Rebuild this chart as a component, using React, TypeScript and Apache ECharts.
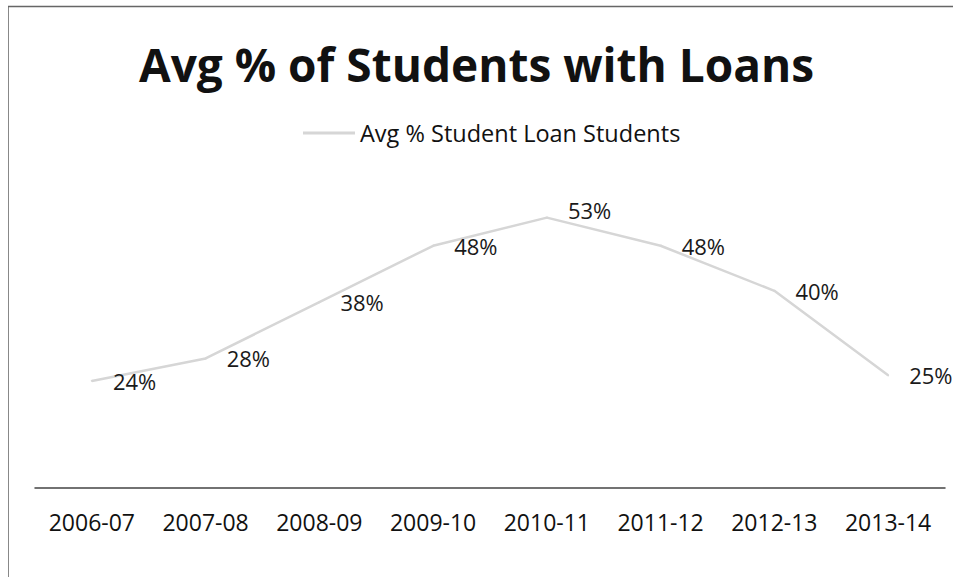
import React, { useEffect, useRef } from "react";
import * as echarts from "echarts";

const categories = ["2006-07", "2007-08", "2008-09", "2009-10", "2010-11", "2011-12", "2012-13", "2013-14"];
const loanValues = [24, 28, 38, 48, 53, 48, 40, 25];
const seriesName = "Avg % Student Loan Students";
const titleText = "Avg % of Students with Loans";

export default function App() {
  const ref = useRef<HTMLDivElement>(null);
  useEffect(() => {
    document.body.style.margin = "0";
    const chart = echarts.init(ref.current!, null, { renderer: "svg" });
    const font = "'Open Sans', 'Liberation Sans', sans-serif";
    const peakIndex = loanValues.indexOf(Math.max(...loanValues));
    const seriesData = loanValues.map((v, i) =>
      i === peakIndex ? { value: v, label: { offset: [0, -8] } } : v
    );
    chart.setOption({
      animation: false,
      backgroundColor: "#ffffff",
      title: {
        text: titleText,
        left: "center",
        top: 36,
        textStyle: { fontFamily: font, fontSize: 46, fontWeight: "bold", color: "#111" },
      },
      legend: {
        data: [seriesName],
        top: 116,
        left: 298,
        itemWidth: 52,
        itemHeight: 3,
        itemGap: 10,
        icon: "rect",
        textStyle: { fontFamily: font, fontSize: 23.5, color: "#111" },
      },
      grid: { left: 35, right: 8, top: 150, bottom: 89 },
      xAxis: {
        type: "category",
        data: categories,
        boundaryGap: true,
        axisLine: { lineStyle: { color: "#444", width: 1.5 } },
        axisTick: { show: false },
        axisLabel: { fontFamily: font, fontSize: 23, color: "#111", margin: 22 },
      },
      yAxis: {
        type: "value",
        min: 5,
        max: 65,
        show: false,
        splitLine: { show: false },
      },
      series: [
        {
          name: seriesName,
          type: "line",
          data: seriesData,
          symbol: "circle",
          symbolSize: 2,
          showSymbol: true,
          lineStyle: { color: "#d6d6d6", width: 2.5 },
          itemStyle: { color: "#d6d6d6" },
          label: {
            show: true,
            position: "right",
            distance: 20,
            formatter: "{c}%",
            fontFamily: font,
            fontSize: 22,
            color: "#1a1a1a",
          },
        },
      ],
      graphic: [
        { type: "line", shape: { x1: 8.5, y1: 6, x2: 8.5, y2: 577 }, style: { stroke: "#888", lineWidth: 1 } },
        { type: "line", shape: { x1: 8, y1: 6.5, x2: 953, y2: 6.5 }, style: { stroke: "#666", lineWidth: 1.5 } },
      ],
    });
    return () => chart.dispose();
  }, []);
  return <div ref={ref} style={{ width: 953, height: 577 }} />;
}
